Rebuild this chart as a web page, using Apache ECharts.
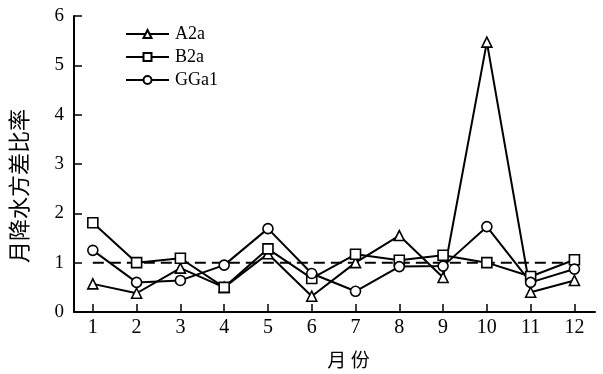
<!DOCTYPE html>
<html>
<head>
<meta charset="utf-8">
<script src="https://cdn.jsdelivr.net/npm/echarts@6/dist/echarts.min.js"></script>
<style>
  html, body { margin: 0; padding: 0; background: #fff; }
  #chart { width: 603px; height: 374px; }
</style>
</head>
<body>
<div id="chart"></div>
<script>
var months = [1, 2, 3, 4, 5, 6, 7, 8, 9, 10, 11, 12];
var yTicks = [0, 1, 2, 3, 4, 5, 6];
var seriesNames = ['A2a', 'B2a', 'GGa1'];
var a2a = [0.57, 0.38, 0.89, 0.50, 1.18, 0.32, 1.00, 1.55, 0.70, 5.47, 0.40, 0.64];
var b2a = [1.81, 1.00, 1.09, 0.50, 1.28, 0.68, 1.17, 1.05, 1.15, 1.00, 0.72, 1.06];
var gga1 = [1.25, 0.60, 0.64, 0.95, 1.69, 0.78, 0.42, 0.92, 0.93, 1.73, 0.60, 0.87];
var refLine = [1, 1];

var serif = '"Liberation Serif", "Times New Roman", serif';
var cjk = '"Noto Sans CJK SC", sans-serif';

function pairs(vals) {
  return months.map(function (m, i) { return [m, vals[i]]; });
}

var chart = echarts.init(document.getElementById('chart'));

function lineSeries(name, vals, symbol) {
  return {
    name: name,
    type: 'line',
    data: pairs(vals),
    symbol: symbol,
    symbolSize: 10,
    showSymbol: true,
    z: 3,
    lineStyle: { color: '#000', width: 2 },
    itemStyle: { color: '#fff', borderColor: '#000', borderWidth: 1.6 }
  };
}

var option = {
  backgroundColor: '#fff',
  animation: false,
  grid: { left: 67, right: 8, top: 16, bottom: 56 },
  legend: {
    data: seriesNames,
    orient: 'vertical',
    left: 120,
    top: 20,
    itemWidth: 43,
    itemHeight: 10,
    itemGap: 5,
    textStyle: { fontFamily: serif, fontSize: 18, color: '#000', padding: [0, 0, 0, 1] }
  },
  xAxis: {
    type: 'value',
    min: 0.57,
    max: 12.47,
    name: '月 份',
    nameLocation: 'middle',
    nameGap: 38,
    nameTextStyle: { fontFamily: cjk, fontSize: 19, color: '#000', padding: [0, 0, 0, 28] },
    axisLine: { lineStyle: { color: '#000', width: 2 } },
    axisTick: { inside: true, length: 8, lineStyle: { color: '#000', width: 1.5 }, customValues: months },
    axisLabel: { customValues: months, fontFamily: serif, fontSize: 20, color: '#000', margin: 6 },
    splitLine: { show: false }
  },
  yAxis: {
    type: 'value',
    min: yTicks[0],
    max: yTicks[yTicks.length - 1],
    interval: 1,
    name: '月降水方差比率',
    nameLocation: 'middle',
    nameGap: 44,
    nameTextStyle: { fontFamily: cjk, fontSize: 22, color: '#000', padding: [0, 44, 0, 0] },
    axisLine: { show: true, lineStyle: { color: '#000', width: 2 } },
    axisTick: { show: true, inside: true, length: 8, lineStyle: { color: '#000', width: 1.5 } },
    axisLabel: { fontFamily: serif, fontSize: 19, color: '#000', margin: 10 },
    splitLine: { show: false }
  },
  series: [
    lineSeries(seriesNames[0], a2a, 'triangle'),
    lineSeries(seriesNames[1], b2a, 'rect'),
    lineSeries(seriesNames[2], gga1, 'circle'),
    {
      name: 'ref',
      type: 'line',
      data: [[months[0], refLine[0]], [months[months.length - 1], refLine[1]]],
      symbol: 'none',
      z: 2,
      lineStyle: { color: '#000', width: 2, type: [11, 6] }
    }
  ]
};

chart.setOption(option);
</script>
</body>
</html>
